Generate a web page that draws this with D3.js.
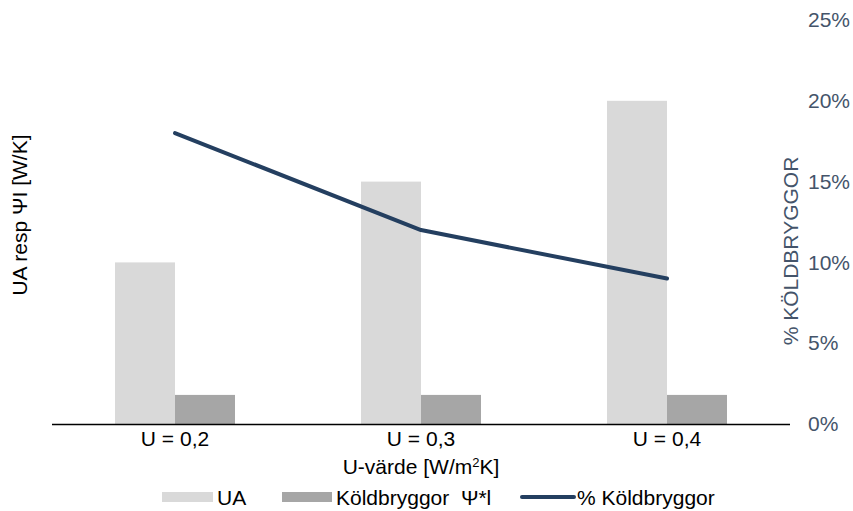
<!DOCTYPE html>
<html>
<head>
<meta charset="utf-8">
<script src="https://cdn.jsdelivr.net/npm/d3@7"></script>
<style>
  html, body { margin: 0; padding: 0; background: #fff; }
  svg { display: block; font-family: "Liberation Sans", Arial, sans-serif; }
</style>
</head>
<body>
<svg id="chart" width="853" height="511"></svg>
<script>
// Categories and series
const categories = ["U = 0,2", "U = 0,3", "U = 0,4"];
const uaValues = [10, 15, 20];
const koldValues = [1.8, 1.8, 1.8];
const pctValues = [0.18, 0.12, 0.09];
const pctTicks = [0, 0.05, 0.10, 0.15, 0.20, 0.25];
const seriesNames = ["UA", "Köldbryggor  Ψ*l", "% Köldbryggor"];

const svg = d3.select("#chart");
const margin = { left: 52, right: 63, top: 20, bottom: 86 };
const W = 853, H = 511;
const plotL = margin.left, plotR = W - margin.right;
const plotT = margin.top, plotB = H - margin.bottom - 1;
const FS = 21;

const x = d3.scaleBand().domain(categories).range([plotL, plotR]).paddingInner(0).paddingOuter(0);
const yLeft = d3.scaleLinear().domain([0, 25]).range([plotB, plotT]);
const yRight = d3.scaleLinear().domain([0, 0.25]).range([plotB, plotT]);

const barW = 60;
const colUA = "#d9d9d9", colK = "#a6a6a6", colLine = "#243f60", colAxisTxt = "#44546a";

// UA bars
svg.append("g").selectAll("rect").data(categories).join("rect")
  .attr("x", d => x(d) + x.bandwidth() / 2 - barW)
  .attr("y", (d, i) => yLeft(uaValues[i]))
  .attr("width", barW)
  .attr("height", (d, i) => plotB - yLeft(uaValues[i]))
  .attr("fill", colUA);

// Köldbryggor bars
svg.append("g").selectAll("rect").data(categories).join("rect")
  .attr("x", d => x(d) + x.bandwidth() / 2)
  .attr("y", (d, i) => yLeft(koldValues[i]))
  .attr("width", barW)
  .attr("height", (d, i) => plotB - yLeft(koldValues[i]))
  .attr("fill", colK);

// Baseline axis
svg.append("line")
  .attr("x1", plotL).attr("x2", plotR)
  .attr("y1", plotB + 0.5).attr("y2", plotB + 0.5)
  .attr("stroke", "#000").attr("stroke-width", 1.5);

// Percentage line
const line = d3.line()
  .x((d, i) => x(categories[i]) + x.bandwidth() / 2)
  .y(d => yRight(d));
svg.append("path").datum(pctValues)
  .attr("d", line)
  .attr("fill", "none")
  .attr("stroke", colLine)
  .attr("stroke-width", 4)
  .attr("stroke-linecap", "round")
  .attr("stroke-linejoin", "round");

// Category axis
const xAxis = svg.append("g")
  .attr("transform", `translate(0,${plotB})`)
  .call(d3.axisBottom(x).tickSize(0).tickPadding(7));
xAxis.select(".domain").remove();
xAxis.selectAll("text")
  .attr("font-size", FS).attr("fill", "#000")
  .attr("font-family", "Liberation Sans, Arial, sans-serif");

// Right percentage axis
const yAxisR = svg.append("g")
  .attr("transform", `translate(${plotR + 18},0)`)
  .call(d3.axisRight(yRight).tickValues(pctTicks).tickFormat(d3.format(".0%")).tickSize(0).tickPadding(0));
yAxisR.select(".domain").remove();
yAxisR.selectAll("text")
  .attr("font-size", FS).attr("fill", colAxisTxt)
  .attr("font-family", "Liberation Sans, Arial, sans-serif");

// Axis titles
svg.append("text")
  .attr("transform", `translate(27,215) rotate(-90)`)
  .attr("text-anchor", "middle")
  .attr("font-size", FS).attr("fill", "#000")
  .text("UA resp ΨI [W/K]");

svg.append("text")
  .attr("transform", `translate(798,251) rotate(-90)`)
  .attr("text-anchor", "middle")
  .attr("font-size", FS).attr("fill", colAxisTxt)
  .text("% KÖLDBRYGGOR");

const xt = svg.append("text")
  .attr("x", (plotL + plotR) / 2).attr("y", 474)
  .attr("text-anchor", "middle")
  .attr("font-size", FS).attr("fill", "#000");
xt.append("tspan").text("U-värde [W/m");
xt.append("tspan").attr("font-size", 13).attr("dy", -7).text("2");
xt.append("tspan").attr("dy", 7).text("K]");

// Legend
const leg = svg.append("g").attr("font-size", FS);
const legY = 497;
leg.append("rect").attr("x", 162).attr("y", legY - 5).attr("width", 51).attr("height", 10).attr("fill", colUA);
leg.append("text").attr("x", 217).attr("y", legY + 8).text(seriesNames[0]);
leg.append("rect").attr("x", 282).attr("y", legY - 5).attr("width", 50).attr("height", 10).attr("fill", colK);
leg.append("text").attr("x", 336).attr("y", legY + 8).style("white-space", "pre").text(seriesNames[1]);
leg.append("line").attr("x1", 522).attr("x2", 574).attr("y1", legY).attr("y2", legY)
  .attr("stroke", colLine).attr("stroke-width", 4).attr("stroke-linecap", "round");
leg.append("text").attr("x", 577).attr("y", legY + 8).text(seriesNames[2]);
</script>
</body>
</html>
